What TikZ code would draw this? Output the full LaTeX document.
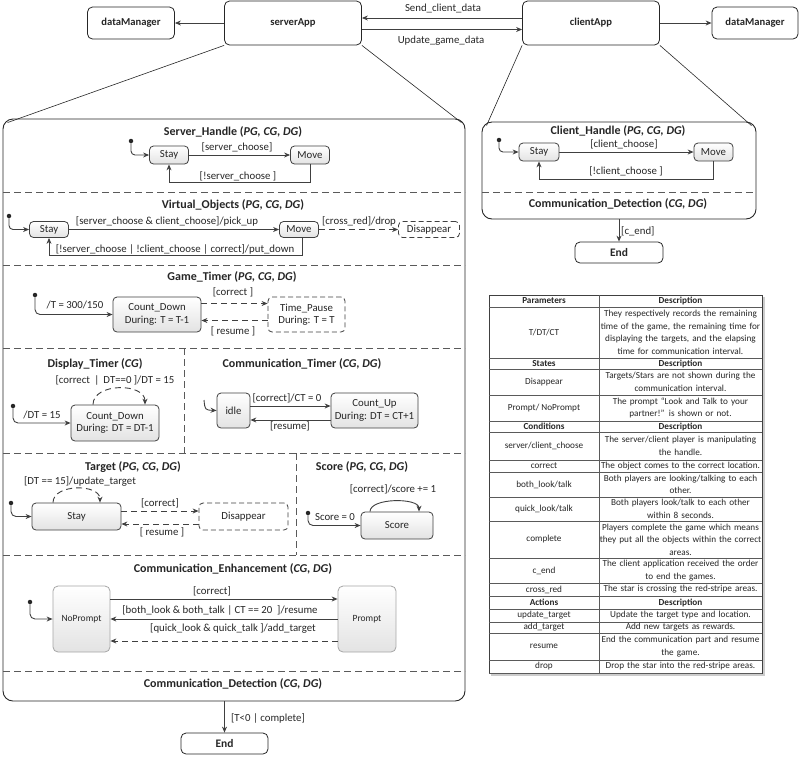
\documentclass[tikz,border=0pt]{standalone}
\usepackage{fontspec}
\setmainfont{Carlito}
\usetikzlibrary{arrows.meta}
\definecolor{ink}{HTML}{262626}
\definecolor{edge}{HTML}{404040}
\definecolor{sep}{HTML}{5A5A5A}
\newcommand\lblfont{\fontsize{10.8}{12.5}\selectfont}
\newcommand\tfont{\fontsize{9.2}{12.6}\selectfont}
\newcommand\tfb{\fontsize{9.2}{12.6}\selectfont\bfseries}
\newcommand\trow[6]{%
  \node[tcell,#6] (#1L) at (544,{(#2+#3)/2}) {#4};
  \node[tcell,#6,text width=170pt] (#1R) at (680.5,{(#2+#3)/2}) {#5};
  \draw[tline] (489,#3) -- (762,#3);}
\tikzset{
  lbl/.style={font=\lblfont, text=ink, inner sep=0pt},
  ttl/.style={font=\fontsize{12}{14}\selectfont\bfseries, text=ink, inner sep=0pt},
  stbox/.style={draw=edge, line width=0.8pt, rounded corners=4pt, top color=white, bottom color=gray!22, font=\lblfont, text=ink, align=center, inner sep=1pt},
  dstbox/.style={stbox, dash pattern=on 5pt off 3pt, top color=white, bottom color=white},
  pbox/.style={stbox, draw=gray!70, rounded corners=5pt, font=\fontsize{9.5}{11}\selectfont},
  arr/.style={draw=edge, line width=0.9pt, -{Stealth[length=6pt,width=5pt]}},
  darr/.style={arr, dash pattern=on 6pt off 4pt},
  initdot/.style={circle, fill=ink, inner sep=0pt, minimum size=4.5pt},
  sepline/.style={draw=sep, line width=0.8pt, dash pattern=on 7pt off 4pt},
  topbox/.style={draw=ink, rounded corners=5pt, line width=0.8pt, font=\fontsize{10.6}{12}\selectfont\bfseries, text=ink, fill=white},
  endbox/.style={topbox, font=\fontsize{11.5}{13}\selectfont\bfseries},
  bigbox/.style={draw=ink, rounded corners=10pt, line width=0.9pt, fill=white},
  thin/.style={draw=ink, line width=0.6pt},
  tcell/.style={font=\tfont, text=ink, align=center, inner sep=0pt},
  tline/.style={draw=sep, line width=0.6pt}
}
\begin{document}
\begin{tikzpicture}[x=1pt,y=-1pt]
\useasboundingbox (0,0) rectangle (800,756);
% ---------- top level ----------
\node[topbox, minimum width=87pt, minimum height=32pt] (dmL) at (131,23) {dataManager};
\node[topbox, minimum width=137pt, minimum height=44pt] (srv) at (293,23) {serverApp};
\node[topbox, minimum width=137pt, minimum height=44pt] (cli) at (591,23) {clientApp};
\node[topbox, minimum width=86pt, minimum height=32pt] (dmR) at (755,23) {dataManager};
\draw[arr] (srv.west) -- (dmL.east);
\draw[arr] (cli.east) -- (dmR.west);
\draw[arr] ([yshift=5pt]cli.west) -- ([yshift=5pt]srv.east);
\draw[arr] ([yshift=-6.5pt]srv.east) -- ([yshift=-6.5pt]cli.west);
\node[lbl] (lsend) at (443,8) {Send\_client\_data};
\node[lbl] (lupd) at (441,41) {Update\_game\_data};

% ---------- server box ----------
\node[bigbox, minimum width=462pt, minimum height=582pt] (sbox) at (234,410) {};
\draw[thin] (srv.south west) -- ([shift={(5pt,-4pt)}]sbox.north west);
\draw[thin] (srv.south east) -- ([shift={(-4pt,-4pt)}]sbox.north east);

% Server_Handle
\node[ttl] (t1) at (233,132) {Server\_Handle (\textit{PG, CG, DG})};
\node[stbox, minimum width=39pt, minimum height=18pt] (sh_stay) at (169,155) {Stay};
\node[stbox, minimum width=39pt, minimum height=18pt] (sh_move) at (310,155) {Move};
\node[initdot] (sh_init) at (131,141) {};
\draw[arr, rounded corners=4pt] (sh_init) |- (sh_stay.west);
\draw[arr] (sh_stay) -- (sh_move);
\node[lbl] at (237,147) {[server\_choose]};
\draw[arr] (sh_move.south) -- ++(0,18) -| (sh_stay.south);
\node[lbl] at (238,176) {[!server\_choose ]};
\draw[sepline] (3,192) -- (465,192);

% Virtual_Objects
\node[ttl] (t2) at (233,205) {Virtual\_Objects (\textit{PG, CG, DG})};
\node[stbox, minimum width=39pt, minimum height=16pt] (vo_stay) at (49,229.5) {Stay};
\node[stbox, minimum width=39pt, minimum height=16pt] (vo_move) at (299,229.5) {Move};
\node[dstbox, minimum width=61pt, minimum height=16pt] (vo_dis) at (429,229.5) {Disappear};
\node[initdot] (vo_init) at (9,216) {};
\draw[arr, rounded corners=4pt] (vo_init) |- (vo_stay.west);
\draw[arr] (vo_stay) -- (vo_move);
\node[lbl] at (167,221) {[server\_choose \& client\_choose]/pick\_up};
\draw[darr] (vo_move) -- (vo_dis);
\node[lbl] at (359,221) {[cross\_red]/drop};
\draw[arr] ([xshift=3pt]vo_move.south) -- ++(0,17.5) -| (vo_stay.south);
\node[lbl] at (175,249) {[!server\_choose | !client\_choose | correct]/put\_down};
\draw[sepline] (3,265) -- (465,265);

% Game_Timer
\node[ttl] (t3) at (232,277) {Game\_Timer (\textit{PG, CG, DG})};
\node[stbox, minimum width=88pt, minimum height=35pt] (gt_cd) at (157,314.5) {Count\_Down\\During: T = T-1};
\node[dstbox, minimum width=77pt, minimum height=35pt] (gt_tp) at (306.5,314.5) {Time\_Pause\\During: T = T};
\node[initdot] (gt_init) at (35,295) {};
\draw[arr, rounded corners=5pt] (gt_init) |- (gt_cd.west);
\node[lbl] at (75,305) {/T = 300/150};
\draw[darr] ([yshift=11pt]gt_cd.east) -- ([yshift=11pt]gt_tp.west);
\node[lbl] at (233,292) {[correct ]};
\draw[darr] ([yshift=-6pt]gt_tp.west) -- ([yshift=-6pt]gt_cd.east);
\node[lbl] at (233,331) {[ resume ]};
\draw[sepline] (3,348) -- (465,348);

% Display_Timer
\node[ttl] (t4) at (95,364) {Display\_Timer (\textit{CG})};
\node[stbox, minimum width=88pt, minimum height=36pt] (dt_cd) at (115,423) {Count\_Down\\During: DT = DT-1};
\node[initdot] (dt_init) at (13,406) {};
\draw[arr, rounded corners=5pt] (dt_init) |- (dt_cd.west);
\node[lbl] at (42,415) {/DT = 15};
\draw[darr] ([xshift=-22pt]dt_cd.north) .. controls +(0,-22) and +(0,-22) .. ([xshift=30pt]dt_cd.north);
\node[lbl] at (115,380) {[correct \,|\, DT==0 ]/DT = 15};
\draw[sepline] (184,348) -- (184,453);

% Communication_Timer
\node[ttl] (t5) at (302,364) {Communication\_Timer (\textit{CG, DG})};
\node[stbox, minimum width=33pt, minimum height=35pt] (ct_idle) at (233.5,410.5) {idle};
\node[stbox, minimum width=87pt, minimum height=35pt] (ct_up) at (374.5,410.5) {Count\_Up\\During: DT = CT+1};
\coordinate (ct_init) at (204,400);
\draw[arr] (ct_init) .. controls (205,410) .. (ct_idle.west);
\draw[arr] ([yshift=4.5pt]ct_idle.east) -- ([yshift=4.5pt]ct_up.west);
\node[lbl] at (287,398) {[correct]/CT = 0};
\draw[arr] ([yshift=-9.5pt]ct_up.west) -- ([yshift=-9.5pt]ct_idle.east);
\node[lbl] at (290,426) {[resume]};
\draw[sepline] (3,453) -- (465,453);

% Target
\node[ttl] (t6) at (133,467) {Target (\textit{PG, CG, DG})};
\node[stbox, minimum width=89pt, minimum height=27pt] (tg_stay) at (76.5,516.5) {Stay};
\node[dstbox, minimum width=89pt, minimum height=27pt] (tg_dis) at (243.5,516.5) {Disappear};
\node[initdot] (tg_init) at (11,503) {};
\draw[arr, rounded corners=5pt] (tg_init) |- (tg_stay.west);
\draw[darr] ([xshift=-23.5pt]tg_stay.north) .. controls +(0,-19) and +(0,-19) .. ([xshift=23.5pt]tg_stay.north);
\node[lbl] at (80,482) {[DT == 15]/update\_target};
\draw[darr] ([yshift=5.5pt]tg_stay.east) -- ([yshift=5.5pt]tg_dis.west);
\node[lbl] at (160,503) {[correct]};
\draw[darr] ([yshift=-7.5pt]tg_dis.west) -- ([yshift=-7.5pt]tg_stay.east);
\node[lbl] at (162,532) {[ resume ]};
\draw[sepline] (296,453) -- (296,555);

% Score
\node[ttl] (t7) at (362,467) {Score (\textit{PG, CG, DG})};
\node[stbox, minimum width=72pt, minimum height=27pt] (sc_node) at (397,525.5) {Score};
\node[initdot] (sc_init) at (308,513) {};
\draw[arr, rounded corners=5pt] (sc_init) |- (sc_node.west);
\node[lbl] at (335,517) {Score = 0};
\draw[arr] ([xshift=-27pt]sc_node.north) .. controls +(0,-14) and +(0,-14) .. ([xshift=22pt]sc_node.north);
\node[lbl] at (393,489) {[correct]/score += 1};
\draw[sepline] (3,555) -- (465,555);

% Communication_Enhancement
\node[ttl] (t8) at (233,569) {Communication\_Enhancement (\textit{CG, DG})};
\node[pbox, minimum width=57pt, minimum height=66pt] (ce_np) at (81.5,619) {NoPrompt};
\node[pbox, minimum width=58pt, minimum height=66pt] (ce_p) at (367,619) {Prompt};
\node[initdot] (ce_init) at (30,602) {};
\draw[arr, rounded corners=5pt] (ce_init) |- (ce_np.west);
\draw[arr] ([yshift=20pt]ce_np.east) -- ([yshift=20pt]ce_p.west);
\node[lbl] at (212,591) {[correct]};
\draw[arr] (ce_p.west) -- (ce_np.east);
\node[lbl] at (220,610) {[both\_look \& both\_talk | CT == 20 \ ]/resume};
\draw[darr] ([yshift=-22pt]ce_p.west) -- ([yshift=-22pt]ce_np.east);
\node[lbl] at (233,629) {[quick\_look \& quick\_talk ]/add\_target};
\draw[sepline] (3,671) -- (465,671);

% Communication_Detection
\node[ttl] (t9) at (233,684) {Communication\_Detection (\textit{CG, DG})};
\node[endbox, minimum width=87pt, minimum height=21pt] (sEnd) at (224.5,743.5) {End};
\draw[arr] (sEnd.north |- sbox.south) -- (sEnd.north);
\node[lbl] at (268,718) {[T<0 | complete]};

% ---------- client box ----------
\node[bigbox, minimum width=274pt, minimum height=97pt] (cbox) at (619,170.5) {};
\draw[thin] (cli.south west) -- ([shift={(5pt,-4pt)}]cbox.north west);
\draw[thin] (cli.south east) -- ([shift={(-5pt,-4pt)}]cbox.north east);
\node[ttl] (t10) at (618,131) {Client\_Handle (\textit{PG, CG, DG})};
\node[stbox, minimum width=40pt, minimum height=18pt] (ch_stay) at (539,152) {Stay};
\node[stbox, minimum width=39pt, minimum height=18pt] (ch_move) at (713.5,152) {Move};
\node[initdot] (ch_init) at (499,140) {};
\draw[arr, rounded corners=4pt] (ch_init) |- (ch_stay.west);
\draw[arr] (ch_stay) -- (ch_move);
\node[lbl] at (624,144) {[client\_choose]};
\draw[arr] (ch_move.south) -- ++(0,18) -| (ch_stay.south);
\node[lbl] at (626,171) {[!client\_choose ]};
\draw[sepline] (482,192) -- (756,192);
\node[ttl] (t11) at (618,204) {Communication\_Detection (\textit{CG, DG})};
\node[endbox, minimum width=88pt, minimum height=21pt] (cEnd) at (619,252.5) {End};
\draw[arr] (cEnd.north |- cbox.south) -- (cEnd.north);
\node[lbl, anchor=west] at (621,231) {[c\_end]};

% ---------- table ----------
\fill[gray!40] (491,297) rectangle (764.5,675.5);
\node[draw=edge, fill=white, line width=0.8pt, minimum width=273pt, minimum height=378pt, inner sep=0pt] (tbl) at (625.5,484) {};
\draw[tline] (599,295) -- (599,673);
\trow{h1}{295}{307}{Parameters}{Description}{font=\tfb}
\trow{r1}{307}{358}{T/DT/CT}{They respectively records the remaining\\time of the game, the remaining time for\\displaying the targets, and the elapsing\\time for communication interval.}{}
\trow{h2}{358}{369}{States}{Description}{font=\tfb}
\trow{r2}{369}{395}{Disappear}{Targets/Stars are not shown during the\\communication interval.}{}
\trow{r3}{395}{421}{Prompt/ NoPrompt}{The prompt “Look and Talk to your\\partner!” is shown or not.}{}
\trow{h3}{421}{432}{Conditions}{Description}{font=\tfb}
\trow{r4}{432}{460}{server/client\_choose}{The server/client player is manipulating\\the handle.}{}
\trow{r5}{460}{472}{correct}{The object comes to the correct location.}{}
\trow{r6}{472}{497}{both\_look/talk}{Both players are looking/talking to each\\other.}{}
\trow{r7}{497}{521}{quick\_look/talk}{Both players look/talk to each other\\within 8 seconds.}{}
\trow{r8}{521}{558}{complete}{Players complete the game which means\\they put all the objects within the correct\\areas.}{}
\trow{r9}{558}{583}{c\_end}{The client application received the order\\to end the games.}{}
\trow{r10}{583}{596}{cross\_red}{The star is crossing the red-stripe areas.}{}
\trow{h4}{596}{609}{Actions}{Description}{font=\tfb}
\trow{r11}{609}{622}{update\_target}{Update the target type and location.}{}
\trow{r12}{622}{633}{add\_target}{Add new targets as rewards.}{}
\trow{r13}{633}{660}{resume}{End the communication part and resume\\the game.}{}
\trow{r14}{660}{673}{drop}{Drop the star into the red-stripe areas.}{}
\end{tikzpicture}
\end{document}
